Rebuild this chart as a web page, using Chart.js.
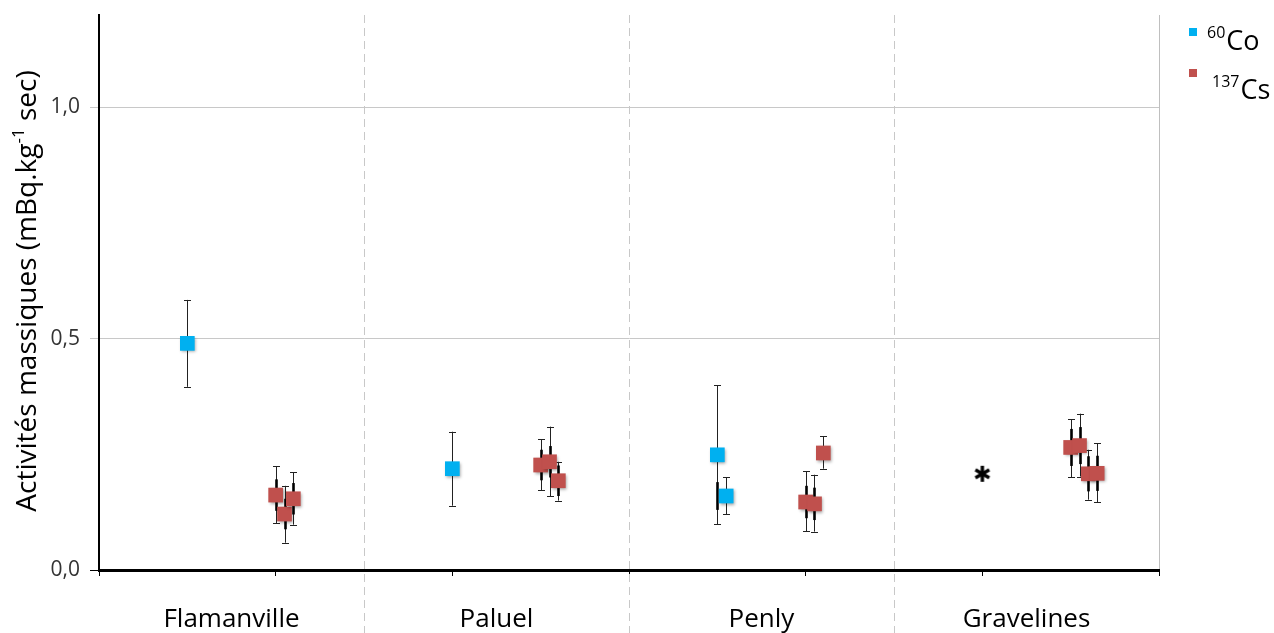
<!DOCTYPE html>
<html>
<head>
<meta charset="utf-8">
<script src="https://cdn.jsdelivr.net/npm/chart.js@4/dist/chart.umd.min.js"></script>
<style>
  html, body { margin: 0; padding: 0; background: #ffffff; }
  #wrap { width: 1274px; height: 633px; position: relative; }
</style>
</head>
<body>
<div id="wrap"><canvas id="chart" width="1274" height="633"></canvas></div>
<script>
// Sites along the coast, their label positions and the separators between them
const sites = ['Flamanville', 'Paluel', 'Penly', 'Gravelines'];
const sitePos = [0.75, 2.25, 3.75, 5.25];
const siteBounds = [1.5, 3, 4.5];
const xTickValues = [0, 1, 2, 3, 4, 5, 6];
const yTickValues = [0, 0.5, 1.0];

// 60Co activities (mBq/kg dry) with their uncertainty ranges
const coX = [0.5, 2.0, 3.5, 3.55];
const coY = [0.490, 0.219, 0.249, 0.160];
const coLow = [0.396, 0.139, 0.099, 0.121];
const coHigh = [0.584, 0.299, 0.400, 0.200];
const coInnerLow = [null, null, 0.130, null];
const coInnerHigh = [null, null, 0.190, null];

// 137Cs activities (mBq/kg dry) with their uncertainty ranges
const csX = [1.0, 1.05, 1.1, 2.5, 2.55, 2.6, 4.0, 4.05, 4.1, 5.5, 5.55, 5.6, 5.65];
const csY = [0.162, 0.121, 0.154, 0.227, 0.234, 0.193, 0.147, 0.143, 0.253, 0.265, 0.269, 0.208, 0.209];
const csLow = [0.101, 0.059, 0.098, 0.173, 0.159, 0.150, 0.084, 0.083, 0.219, 0.200, 0.202, 0.152, 0.147];
const csHigh = [0.224, 0.182, 0.211, 0.283, 0.310, 0.234, 0.213, 0.206, 0.289, 0.326, 0.338, 0.260, 0.274];
const csInnerLow = [0.128, 0.088, 0.120, 0.194, 0.200, 0.160, 0.112, 0.108, null, 0.225, 0.229, 0.170, 0.171];
const csInnerHigh = [0.196, 0.154, 0.188, 0.260, 0.268, 0.226, 0.182, 0.178, null, 0.305, 0.309, 0.246, 0.247];

// Sample reported without a measurable value (asterisk)
const ndX = [5.0];
const ndY = [0.208];

const FONT = '"Open Sans", "Liberation Sans", sans-serif';
const CO_COLOR = '#00B0F0';
const CS_COLOR = '#C0504D';

const toPoints = (xs, ys) => xs.map((x, i) => ({ x: x, y: ys[i] }));

// Asterisk marker drawn once on a small canvas
const asterisk = document.createElement('canvas');
asterisk.width = 22; asterisk.height = 22;
(function () {
  const c = asterisk.getContext('2d');
  c.strokeStyle = '#000';
  c.lineWidth = 3.4;
  c.lineCap = 'butt';
  const r = 8;
  [90, 30, 150].forEach(deg => {
    const a = deg * Math.PI / 180;
    c.beginPath();
    c.moveTo(11 - r * Math.cos(a), 11 - r * Math.sin(a));
    c.lineTo(11 + r * Math.cos(a), 11 + r * Math.sin(a));
    c.stroke();
  });
})();

// Dashed separators between sites (behind everything)
const separators = {
  id: 'separators',
  beforeDatasetsDraw(chart) {
    const { ctx, scales: { x }, chartArea } = chart;
    ctx.save();
    ctx.strokeStyle = '#C8C8C8';
    ctx.lineWidth = 1;
    ctx.setLineDash([8, 5]);
    siteBounds.forEach(v => {
      const px = Math.round(x.getPixelForValue(v)) + 0.5;
      ctx.beginPath();
      ctx.moveTo(px, chartArea.top);
      ctx.lineTo(px, chart.height);
      ctx.stroke();
    });
    ctx.restore();
  }
};

// Vertical uncertainty bars with end caps
const errorBars = {
  id: 'errorBars',
  beforeDatasetsDraw(chart) {
    const { ctx, scales: { x, y } } = chart;
    ctx.save();
    chart.data.datasets.forEach(ds => {
      if (!ds.errLow) return;
      ds.data.forEach((p, i) => {
        const px = Math.round(x.getPixelForValue(p.x)) + 0.5;
        const yl = y.getPixelForValue(ds.errLow[i]);
        const yh = y.getPixelForValue(ds.errHigh[i]);
        ctx.strokeStyle = '#222';
        ctx.lineWidth = 1;
        ctx.beginPath();
        ctx.moveTo(px, yl); ctx.lineTo(px, yh);
        ctx.moveTo(px - 3.5, Math.round(yl) + 0.5); ctx.lineTo(px + 3.5, Math.round(yl) + 0.5);
        ctx.moveTo(px - 3.5, Math.round(yh) + 0.5); ctx.lineTo(px + 3.5, Math.round(yh) + 0.5);
        ctx.stroke();
        if (ds.innerLow && ds.innerLow[i] != null) {
          ctx.strokeStyle = '#000';
          ctx.lineWidth = 2.6;
          ctx.beginPath();
          ctx.moveTo(px, y.getPixelForValue(ds.innerLow[i]));
          ctx.lineTo(px, y.getPixelForValue(ds.innerHigh[i]));
          ctx.stroke();
        }
      });
    });
    ctx.restore();
  }
};

// Soft drop shadow under the square markers
const markerShadow = {
  id: 'markerShadow',
  beforeDatasetDraw(chart, args) {
    const ctx = chart.ctx;
    ctx.save();
    if (chart.data.datasets[args.index].shadow) {
      ctx.shadowColor = 'rgba(0,0,0,0.35)';
      ctx.shadowBlur = 3;
      ctx.shadowOffsetX = 1.5;
      ctx.shadowOffsetY = 1.5;
    }
  },
  afterDatasetDraw(chart) {
    chart.ctx.restore();
  }
};

// Site names, axis title and legend with superscripts
const annotations = {
  id: 'annotations',
  afterDraw(chart) {
    const { ctx, scales: { x } } = chart;
    ctx.save();
    ctx.fillStyle = '#000';

    // site names under the axis
    ctx.font = '26px ' + FONT;
    ctx.textAlign = 'center';
    ctx.textBaseline = 'alphabetic';
    sites.forEach((s, i) => ctx.fillText(s, x.getPixelForValue(sitePos[i]), 627));

    // y axis title, rotated
    const big = '28px ' + FONT, small = '17px ' + FONT;
    const parts = [['Activités massiques (mBq.kg', big, 0], ['-1', small, -12], [' sec)', big, 0]];
    let total = 0;
    parts.forEach(p => { ctx.font = p[1]; total += ctx.measureText(p[0]).width; });
    ctx.translate(36, 291);
    ctx.rotate(-Math.PI / 2);
    ctx.textAlign = 'left';
    let cx = -total / 2;
    parts.forEach(p => {
      ctx.font = p[1];
      ctx.fillText(p[0], cx, p[2]);
      cx += ctx.measureText(p[0]).width;
    });
    ctx.setTransform(1, 0, 0, 1, 0, 0);

    // legend
    const legend = [
      { color: CO_COLOR, sq: 28, sup: '60', sx: 1207, main: 'Co', base: 50 },
      { color: CS_COLOR, sq: 69, sup: '137', sx: 1212, main: 'Cs', base: 99 }
    ];
    legend.forEach(l => {
      ctx.fillStyle = l.color;
      ctx.fillRect(1189, l.sq, 8, 8);
      ctx.fillStyle = '#000';
      ctx.textAlign = 'left';
      ctx.font = '16px ' + FONT;
      ctx.fillText(l.sup, l.sx, l.base - 12);
      const w = ctx.measureText(l.sup).width;
      ctx.font = '27px ' + FONT;
      ctx.fillText(l.main, l.sx + w + 1, l.base);
    });
    ctx.restore();
  }
};

new Chart(document.getElementById('chart'), {
  type: 'scatter',
  data: {
    datasets: [
      {
        label: '60Co',
        data: toPoints(coX, coY),
        pointStyle: 'rect',
        pointRadius: 10.4,
        pointHoverRadius: 10.4,
        backgroundColor: CO_COLOR,
        borderWidth: 0,
        shadow: true,
        errLow: coLow, errHigh: coHigh,
        innerLow: coInnerLow, innerHigh: coInnerHigh
      },
      {
        label: '137Cs',
        data: toPoints(csX, csY),
        pointStyle: 'rect',
        pointRadius: 10.4,
        pointHoverRadius: 10.4,
        backgroundColor: CS_COLOR,
        borderWidth: 0,
        shadow: true,
        errLow: csLow, errHigh: csHigh,
        innerLow: csInnerLow, innerHigh: csInnerHigh
      },
      {
        label: 'nd',
        data: toPoints(ndX, ndY),
        pointStyle: asterisk,
        pointRadius: 11,
        backgroundColor: '#000',
        borderWidth: 0
      }
    ]
  },
  options: {
    responsive: false,
    animation: false,
    events: [],
    layout: { padding: { top: 15, right: 115, left: 0, bottom: 0 } },
    plugins: {
      legend: { display: false },
      tooltip: { enabled: false },
      title: { display: false }
    },
    scales: {
      x: {
        type: 'linear',
        min: 0,
        max: 6,
        afterBuildTicks(scale) { scale.ticks = xTickValues.map(v => ({ value: v })); },
        afterFit(scale) { scale.height = 63; scale.paddingLeft = 0; scale.paddingRight = 0; },
        ticks: { display: false },
        grid: {
          drawOnChartArea: true,
          color: ctx => (ctx.tick && ctx.tick.value === 6 ? '#BFBFBF' : 'rgba(0,0,0,0)'),
          tickColor: '#000',
          tickLength: 6,
          lineWidth: 1
        },
        border: { display: true, color: '#000', width: 3 }
      },
      y: {
        type: 'linear',
        min: 0,
        max: 1.2,
        afterBuildTicks(scale) { scale.ticks = yTickValues.map(v => ({ value: v })); },
        afterFit(scale) { scale.width = 99; scale.paddingTop = 0; scale.paddingBottom = 0; },
        ticks: {
          padding: 10,
          color: '#333',
          font: { family: FONT, size: 21 },
          callback: v => v.toFixed(1).replace('.', ',')
        },
        grid: {
          color: ctx => (ctx.tick && ctx.tick.value === 0 ? 'rgba(0,0,0,0)' : '#C8C8C8'),
          tickColor: ctx => (ctx.tick && ctx.tick.value === 0 ? '#000' : '#C8C8C8'),
          tickLength: 9,
          lineWidth: 1
        },
        border: { display: true, color: '#000', width: 2 }
      }
    }
  },
  plugins: [separators, errorBars, markerShadow, annotations]
});
</script>
</body>
</html>
